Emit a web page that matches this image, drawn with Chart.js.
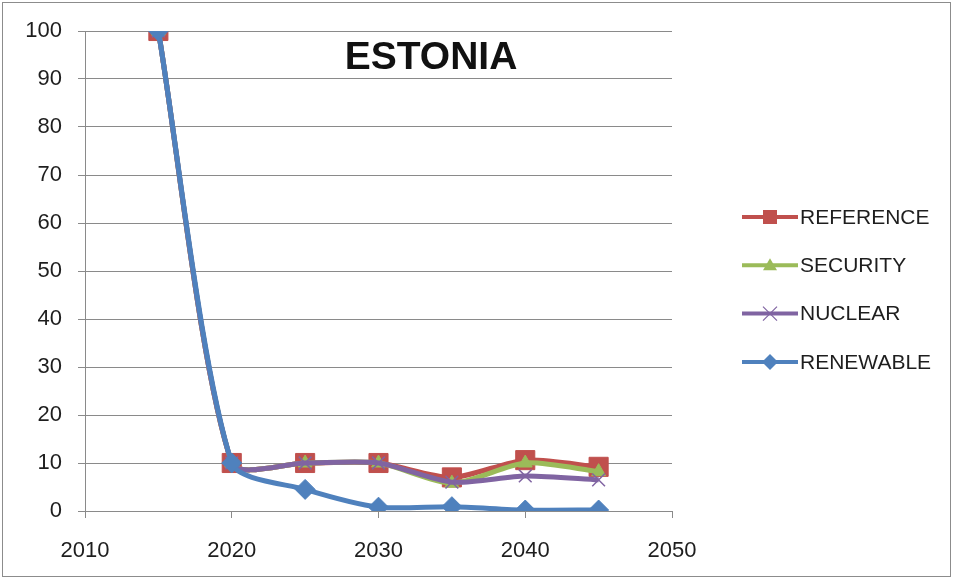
<!DOCTYPE html>
<html>
<head>
<meta charset="utf-8">
<title>ESTONIA</title>
<script src="https://cdn.jsdelivr.net/npm/chart.js@4/dist/chart.umd.min.js"></script>
<style>
    html, body { margin: 0; padding: 0; background: #fff; }
    #wrap { width: 953px; height: 579px; }
</style>
</head>
<body>
<div id="wrap"><canvas id="grafico" width="953" height="579"></canvas></div>
<script>
// ===== Dados =====
const anos = [2015, 2020, 2025, 2030, 2035, 2040, 2045];
const reference = [100, 10, 10, 10, 7, 10.6, 9.2];
const security  = [100, 10, 10, 10, 5.8, 10, 8.2];
const nuclear   = [100, 10, 10, 10, 6, 7.3, 6.5];
const renewable = [100, 10, 4.5, 0.8, 0.9, 0.2, 0.2];
const xTicks = [2010, 2020, 2030, 2040, 2050];
const yTicks = [0, 10, 20, 30, 40, 50, 60, 70, 80, 90, 100];

const cinza = '#8a8a8a';
const texto = '#1e1e1e';
const fonte = 'Liberation Sans, Arial, sans-serif';

function pontos(valores) {
    return anos.map((ano, i) => ({ x: ano, y: valores[i] }));
}

function serie(label, valores, cor, tipo, raio, ordem) {
    return {
        label,
        data: pontos(valores),
        borderColor: cor,
        backgroundColor: cor,
        borderWidth: 5,
        pointStyle: tipo,
        pointRadius: raio,
        pointHoverRadius: raio,
        pointBackgroundColor: cor,
        pointBorderColor: cor,
        pointBorderWidth: tipo === 'crossRot' ? 1.5 : 1,
        tension: 0.25,
        order: ordem
    };
}

// ===== Marcador da legenda =====
function marcador(g, tipo, cx, cy) {
    g.beginPath();
    if (tipo === 'rect') {
        g.rect(cx - 7, cy - 7, 14, 14);
        g.fill();
    } else if (tipo === 'triangle') {
        g.moveTo(cx, cy - 7);
        g.lineTo(cx + 7, cy + 5);
        g.lineTo(cx - 7, cy + 5);
        g.closePath();
        g.fill();
    } else if (tipo === 'crossRot') {
        g.lineWidth = 1.2;
        g.moveTo(cx - 7, cy - 7); g.lineTo(cx + 7, cy + 7);
        g.moveTo(cx + 7, cy - 7); g.lineTo(cx - 7, cy + 7);
        g.stroke();
    } else {
        g.moveTo(cx, cy - 8);
        g.lineTo(cx + 8, cy);
        g.lineTo(cx, cy + 8);
        g.lineTo(cx - 8, cy);
        g.closePath();
        g.fill();
    }
}

// ===== Legenda à direita (linha + marcador + nome) =====
const legendaLinhas = {
    id: 'legendaLinhas',
    afterDraw(chart) {
        const g = chart.ctx;
        g.save();
        g.font = '21px ' + fonte;
        g.textBaseline = 'middle';
        g.textAlign = 'left';
        chart.data.datasets.forEach((ds, i) => {
            const y = 217 + i * 48.3;
            g.strokeStyle = ds.borderColor;
            g.fillStyle = ds.borderColor;
            g.lineWidth = 4;
            g.beginPath();
            g.moveTo(742, y);
            g.lineTo(798, y);
            g.stroke();
            marcador(g, ds.pointStyle, 770, y);
            g.fillStyle = texto;
            g.fillText(ds.label, 800, y + 1);
        });
        g.restore();
    }
};

// ===== Moldura e título =====
const moldura = {
    id: 'moldura',
    beforeDraw(chart) {
        const ctx = chart.ctx;
        ctx.save();
        ctx.fillStyle = '#fff';
        ctx.fillRect(0, 0, chart.width, chart.height);
        ctx.strokeStyle = '#8c8c8c';
        ctx.lineWidth = 1;
        ctx.strokeRect(2.5, 2.5, chart.width - 5, chart.height - 5);
        ctx.restore();
    }
};

const tituloPais = {
    id: 'tituloPais',
    beforeDatasetsDraw(chart) {
        const ctx = chart.ctx;
        ctx.save();
        ctx.font = 'bold 39px ' + fonte;
        ctx.fillStyle = '#111';
        ctx.textAlign = 'center';
        ctx.textBaseline = 'middle';
        ctx.fillText('ESTONIA', 431, 58);
        ctx.restore();
    }
};

// ===== Gráfico =====
const ctx = document.getElementById('grafico').getContext('2d');
new Chart(ctx, {
    type: 'line',
    data: {
        datasets: [
            serie('REFERENCE', reference, '#C0504D', 'rect', 13.5, 3),
            serie('SECURITY', security, '#9BBB59', 'triangle', 8, 2),
            serie('NUCLEAR', nuclear, '#8064A2', 'crossRot', 9, 1),
            serie('RENEWABLE', renewable, '#4F81BD', 'rectRot', 10, 0)
        ]
    },
    options: {
        responsive: false,
        animation: false,
        layout: { padding: { left: 5, top: 0, right: 5, bottom: 0 } },
        plugins: {
            legend: { display: false },
            tooltip: { enabled: false }
        },
        scales: {
            x: {
                type: 'linear',
                min: 2010,
                max: 2050,
                afterBuildTicks(axis) {
                    axis.ticks = xTicks.map(v => ({ value: v }));
                },
                afterFit(axis) {
                    axis.height = 579 - 511;
                    axis.paddingRight = 953 - 672;
                },
                grid: { drawOnChartArea: false, drawTicks: true, tickLength: 7, color: cinza },
                border: { color: cinza, width: 1 },
                ticks: {
                    padding: 20,
                    color: texto,
                    font: { family: fonte, size: 22 },
                    callback: v => String(v)
                }
            },
            y: {
                min: 0,
                max: 100,
                afterBuildTicks(axis) {
                    axis.ticks = yTicks.map(v => ({ value: v }));
                },
                afterFit(axis) {
                    axis.width = 80;
                    axis.paddingTop = 31;
                },
                grid: { color: cinza, lineWidth: 1, tickLength: 7 },
                border: { color: cinza, width: 1 },
                ticks: {
                    padding: 16,
                    color: texto,
                    font: { family: fonte, size: 22 }
                }
            }
        }
    },
    plugins: [moldura, tituloPais, legendaLinhas]
});
</script>
</body>
</html>
